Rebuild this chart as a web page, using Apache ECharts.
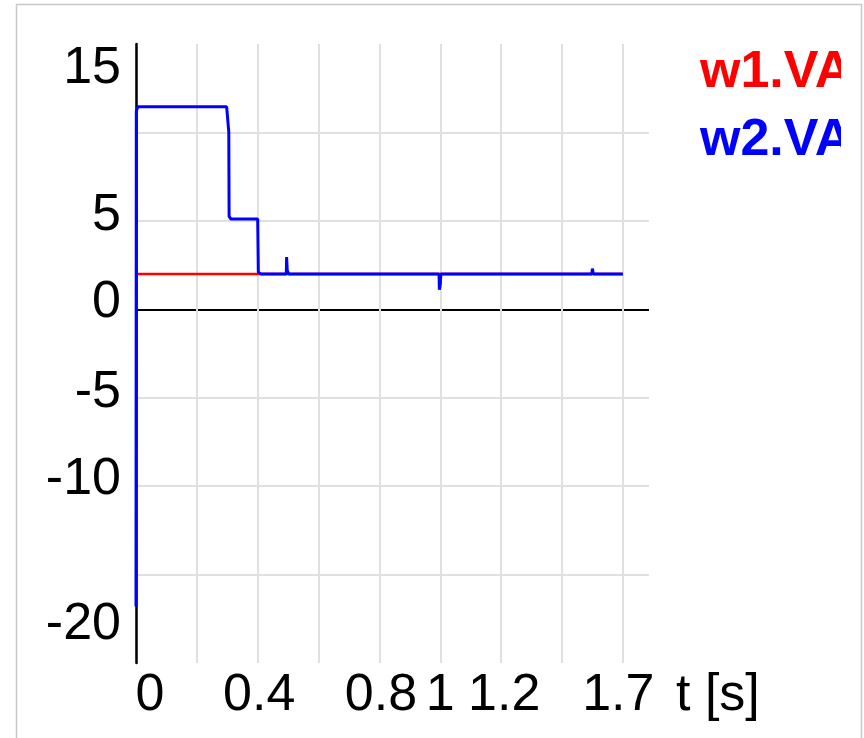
<!DOCTYPE html>
<html>
<head>
<meta charset="utf-8">
<script src="https://cdn.jsdelivr.net/npm/echarts@6/dist/echarts.min.js"></script>
<style>
  html, body { margin: 0; padding: 0; background: #fff; }
  #main { width: 864px; height: 738px; }
</style>
</head>
<body>
<div id="main"></div>
<script>
// series names
var seriesNames = ['w1.VA', 'w2.VA'];

// w1.VA: flat line
var w1T = [0, 1.6];
var w1V = [2, 2];

// w2.VA: step response with small spikes
var w2T = [0, 0.001, 0.006, 0.298, 0.305, 0.306, 0.312, 0.4, 0.402, 0.41, 0.494, 0.495, 0.497, 0.502,
           0.996, 0.997, 1.0, 1.002, 1.498, 1.5, 1.503, 1.6];
var w2V = [-16.8, 11.2, 11.45, 11.45, 10.0, 5.25, 5.1, 5.1, 2.1, 2.0, 2.0, 2.95, 2.2, 2.0,
           2.0, 1.1, 1.4, 2.0, 2.0, 2.3, 2.0, 2.0];

// tick labels (the original plot places some of them off the grid lines)
var xLabelText = ['0', '0.4', '0.8', '1', '1.2', '1.7'];
var xLabelAt = [0.046, 0.405, 0.805, 1.0, 1.21, 1.585];
var yLabelText = ['15', '5', '0', '-5', '-10', '-20'];
var yLabelAt = [13.6, 5.28, 0.37, -4.74, -9.63, -17.84];

function pairs(t, v) {
  return t.map(function (x, i) { return [x, v[i]]; });
}
function labelFor(at, text) {
  return function (val) {
    for (var i = 0; i < at.length; i++) {
      if (Math.abs(at[i] - val) < 1e-6) return text[i];
    }
    return '';
  };
}

var font = "'Liberation Sans', Arial, sans-serif";
var grid = '#e0e0e0';

var myChart = echarts.init(document.getElementById('main'));
myChart.setOption({
  animation: false,
  grid: { left: 136, right: 215, top: 44, bottom: 75 },
  legend: {
    orient: 'vertical',
    left: 689,
    top: 42,
    itemWidth: 0,
    itemHeight: 0,
    itemGap: 16,
    selectedMode: false,
    textStyle: { fontSize: 52, fontWeight: 'bold', fontFamily: font, lineHeight: 52 },
    data: [
      { name: seriesNames[0], textStyle: { color: '#ff0000' } },
      { name: seriesNames[1], textStyle: { color: '#0000ff' } }
    ]
  },
  xAxis: {
    type: 'value',
    min: 0,
    max: 1.686,
    interval: 0.2,
    name: 't [s]',
    nameLocation: 'end',
    nameGap: 27,
    nameTextStyle: { fontSize: 52, fontFamily: font, color: '#000', verticalAlign: 'top', padding: [7, 0, 0, 0] },
    axisLine: { show: false, onZero: false },
    axisTick: { show: false },
    axisLabel: {
      customValues: xLabelAt,
      formatter: labelFor(xLabelAt, xLabelText),
      fontSize: 52,
      fontFamily: font,
      color: '#000',
      margin: 7
    },
    splitLine: { show: true, showMaxLine: false, lineStyle: { color: grid, width: 2 } }
  },
  yAxis: {
    type: 'value',
    min: -20,
    max: 15,
    interval: 5,
    axisLine: { show: true, onZero: false, lineStyle: { color: '#000', width: 2.5 } },
    axisTick: { show: false },
    axisLabel: {
      customValues: yLabelAt,
      formatter: labelFor(yLabelAt, yLabelText),
      fontSize: 52,
      fontFamily: font,
      color: '#000',
      margin: 15
    },
    splitLine: {
      show: true,
      lineStyle: {
        width: 2,
        color: ['rgba(0,0,0,0)', grid, grid, grid, '#000000', grid, grid, 'rgba(0,0,0,0)']
      }
    }
  },
  graphic: [
    {
      type: 'rect',
      z: 100,
      shape: { x: 841, y: 40, width: 20, height: 140 },
      style: { fill: '#fff' }
    },
    {
      type: 'rect',
      z: 101,
      shape: { x: 16.5, y: 4.5, width: 845, height: 760 },
      style: { fill: 'none', stroke: '#c8c8c8', lineWidth: 1.5 }
    }
  ],
  series: [
    {
      name: seriesNames[0],
      type: 'line',
      showSymbol: false,
      data: pairs(w1T, w1V),
      lineStyle: { color: '#ff0000', width: 2.5 },
      itemStyle: { color: '#ff0000' }
    },
    {
      name: seriesNames[1],
      type: 'line',
      showSymbol: false,
      data: pairs(w2T, w2V),
      lineStyle: { color: '#0000ff', width: 3 },
      itemStyle: { color: '#0000ff' }
    }
  ]
});
</script>
</body>
</html>
